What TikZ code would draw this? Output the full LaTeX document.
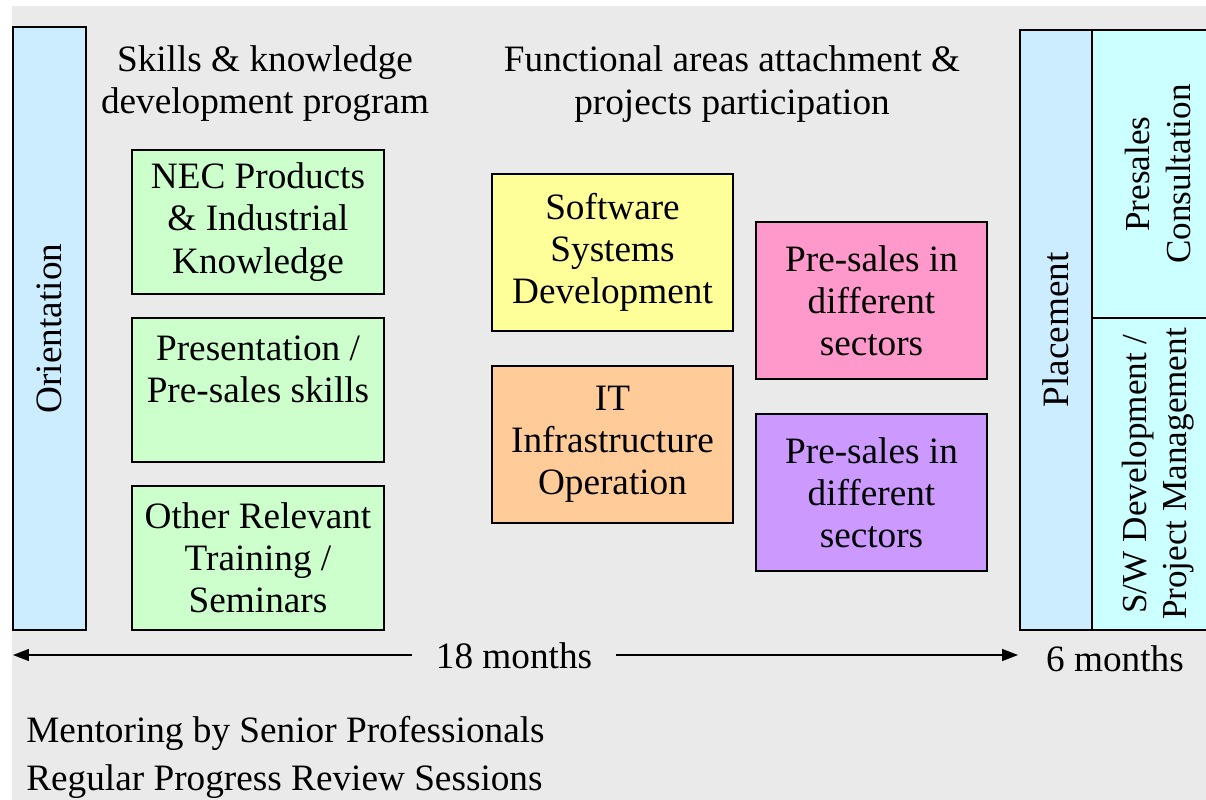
\documentclass[tikz,border=0pt]{standalone}
\usepackage{fontspec}
\setmainfont{Liberation Serif}
\usetikzlibrary{arrows.meta}

\definecolor{bggray}{HTML}{EAEAEA}
\definecolor{lblue}{HTML}{CCECFF}
\definecolor{lgreen}{HTML}{CCFFCC}
\definecolor{lyellow}{HTML}{FFFF99}
\definecolor{lorange}{HTML}{FFCC99}
\definecolor{lpink}{HTML}{FF99CC}
\definecolor{lpurple}{HTML}{CC99FF}
\definecolor{lcyan}{HTML}{CCFFFF}

\tikzset{
	box/.style={draw, line width=0.8pt, inner sep=0pt, align=center},
	plain/.style={inner sep=0pt, align=center},
	span/.style={line width=0.8pt, -{Triangle[length=0.32cm, width=0.24cm]}}
}

\begin{document}
\begin{tikzpicture}[x=0.02cm, y=-0.02cm, every node/.style={font=\fontsize{21.2}{24}\selectfont}]
	\useasboundingbox (0,0) rectangle (1206,800);
	\fill[bggray] (12,6) rectangle (1206,800);

	% side bars
	\node[box, fill=lblue, rotate=90, minimum width=12.06cm, minimum height=1.46cm] (orient) at (49.5,328.5) {Orientation};
	\node[box, fill=lblue, rotate=90, minimum width=12cm, minimum height=1.44cm] (place) at (1056,330) {Placement};
	\node[box, fill=lcyan, rotate=90, minimum width=5.76cm, minimum height=2.64cm, font=\fontsize{20}{23}\selectfont] (presales) at (1158,174) {Presales\\Consultation};
	\node[box, fill=lcyan, rotate=90, minimum width=6.24cm, minimum height=2.64cm, font=\fontsize{20}{23}\selectfont] (swdev) at (1158,474) {S/W Development /\\Project Management};

	% titles
	\node[plain] (skills) at (265,84) {Skills \& knowledge\\development program};
	\node[plain] (func) at (732,84) {Functional areas attachment \&\\projects participation};

	% training boxes
	\node[box, fill=lgreen, minimum width=5.04cm, minimum height=2.88cm] (nec) at (258,222) {NEC Products\\\& Industrial\\Knowledge};
	\node[box, fill=lgreen, minimum width=5.04cm, minimum height=2.88cm, text depth=24pt] (pres) at (258,390) {Presentation /\\Pre-sales skills};
	\node[box, fill=lgreen, minimum width=5.04cm, minimum height=2.88cm] (other) at (258,558) {Other Relevant\\Training /\\Seminars};

	% attachment boxes
	\node[box, fill=lyellow, minimum width=4.82cm, minimum height=3.14cm] (soft) at (612.5,252.5) {Software\\Systems\\Development};
	\node[box, fill=lorange, minimum width=4.82cm, minimum height=3.14cm] (infra) at (612.5,444.5) {IT\\Infrastructure\\Operation};
	\node[box, fill=lpink, minimum width=4.62cm, minimum height=3.14cm] (sales1) at (871.5,300.5) {Pre-sales in\\different\\sectors};
	\node[box, fill=lpurple, minimum width=4.62cm, minimum height=3.14cm] (sales2) at (871.5,492.5) {Pre-sales in\\different\\sectors};

	% durations
	\coordinate (arrL) at (13,655);
	\coordinate (arrR) at (1018,655);
	\node[fill=bggray, inner ysep=0pt, inner xsep=0.48cm] (m18) at (514,656) {18 months};
	\draw[span] (m18.west |- arrL) -- (arrL);
	\draw[span] (m18.east |- arrR) -- (arrR);
	\node[plain] (m6) at (1115,659) {6 months};

	% notes
	\node[plain, anchor=base west] (mentor) at (26,742) {Mentoring by Senior Professionals};
	\node[plain, anchor=base west] (review) at (26,790) {Regular Progress Review Sessions};
\end{tikzpicture}
\end{document}
